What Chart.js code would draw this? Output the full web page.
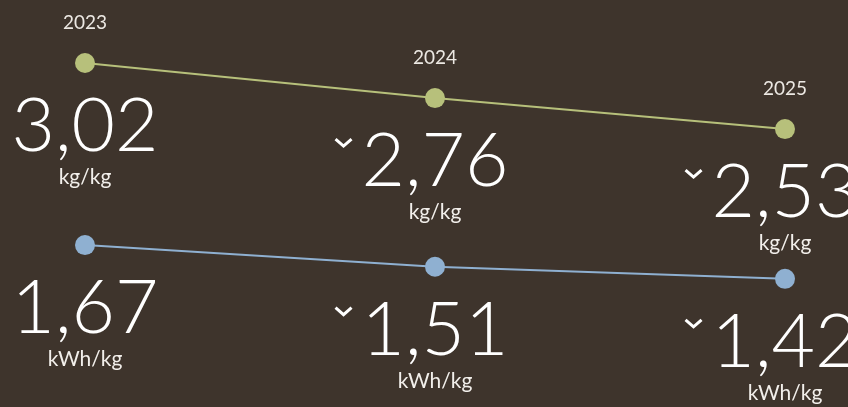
<!DOCTYPE html>
<html>
<head>
<meta charset="utf-8">
<script src="https://cdn.jsdelivr.net/npm/chart.js@4"></script>
<style>
    html, body { margin: 0; padding: 0; background: #3e342c; }
    #wrap { width: 848px; height: 407px; position: relative; }
</style>
</head>
<body>
<div id="wrap"><canvas id="kpiChart"></canvas></div>
<script>
const years = ['2023', '2024', '2025'];
const materialValues = [3.02, 2.76, 2.53];
const energyValues = [1.67, 1.51, 1.42];
const materialUnit = 'kg/kg';
const energyUnit = 'kWh/kg';

const GREEN = '#b7c07b';
const BLUE = '#8fb0d1';
const TEXT = '#ffffff';
const NUM_FONT = "300 75px Lato, Inter, sans-serif";

function fmt(v) {
    return v.toFixed(2).replace('.', ',');
}

const labelsPlugin = {
    id: 'kpiLabels',
    afterDatasetsDraw(chart) {
        const ctx = chart.ctx;
        ctx.save();
        ctx.textAlign = 'center';
        ctx.textBaseline = 'alphabetic';
        chart.data.datasets.forEach((ds, di) => {
            const meta = chart.getDatasetMeta(di);
            meta.data.forEach((pt, i) => {
                const x = pt.x, y = pt.y;
                // year above the top series
                if (di === 0) {
                    ctx.fillStyle = '#ece8e3';
                    ctx.font = "400 19px Lato, Inter, sans-serif";
                    ctx.fillText(years[i], x, y - 34);
                }
                // big number
                const txt = fmt(ds.data[i]);
                ctx.fillStyle = TEXT;
                ctx.font = NUM_FONT;
                ctx.fillText(txt, x, y + 88);
                // unit
                ctx.font = "400 21px Lato, Inter, sans-serif";
                ctx.fillStyle = '#f2efeb';
                ctx.fillText(ds.unit, x, y + 121);
                // chevron for a decrease
                if (i > 0 && ds.data[i] < ds.data[i - 1]) {
                    ctx.font = NUM_FONT;
                    const left = x - ctx.measureText(txt).width / 2 - 9;
                    const top = y + 88 - 47;
                    ctx.strokeStyle = TEXT;
                    ctx.lineWidth = 3;
                    ctx.beginPath();
                    ctx.moveTo(left - 17, top);
                    ctx.lineTo(left - 9, top + 7);
                    ctx.lineTo(left - 1, top);
                    ctx.stroke();
                }
            });
        });
        ctx.restore();
    }
};

new Chart(document.getElementById('kpiChart').getContext('2d'), {
    type: 'line',
    data: {
        labels: years,
        datasets: [
            {
                label: 'Material',
                data: materialValues,
                unit: materialUnit,
                borderColor: GREEN,
                backgroundColor: GREEN,
                pointBackgroundColor: GREEN,
                borderWidth: 2,
                pointRadius: 10,
                pointBorderWidth: 0,
                tension: 0
            },
            {
                label: 'Energy',
                data: energyValues,
                unit: energyUnit,
                borderColor: BLUE,
                backgroundColor: BLUE,
                pointBackgroundColor: BLUE,
                borderWidth: 2,
                pointRadius: 10,
                pointBorderWidth: 0,
                tension: 0
            }
        ]
    },
    options: {
        responsive: true,
        maintainAspectRatio: false,
        animation: false,
        layout: { autoPadding: false, padding: { left: 85, right: 63, top: 0, bottom: 0 } },
        plugins: {
            legend: { display: false },
            tooltip: { enabled: false }
        },
        scales: {
            x: { display: false, offset: false },
            y: { display: false, min: 0.47, max: 3.487 }
        }
    },
    plugins: [labelsPlugin]
});
</script>
</body>
</html>
